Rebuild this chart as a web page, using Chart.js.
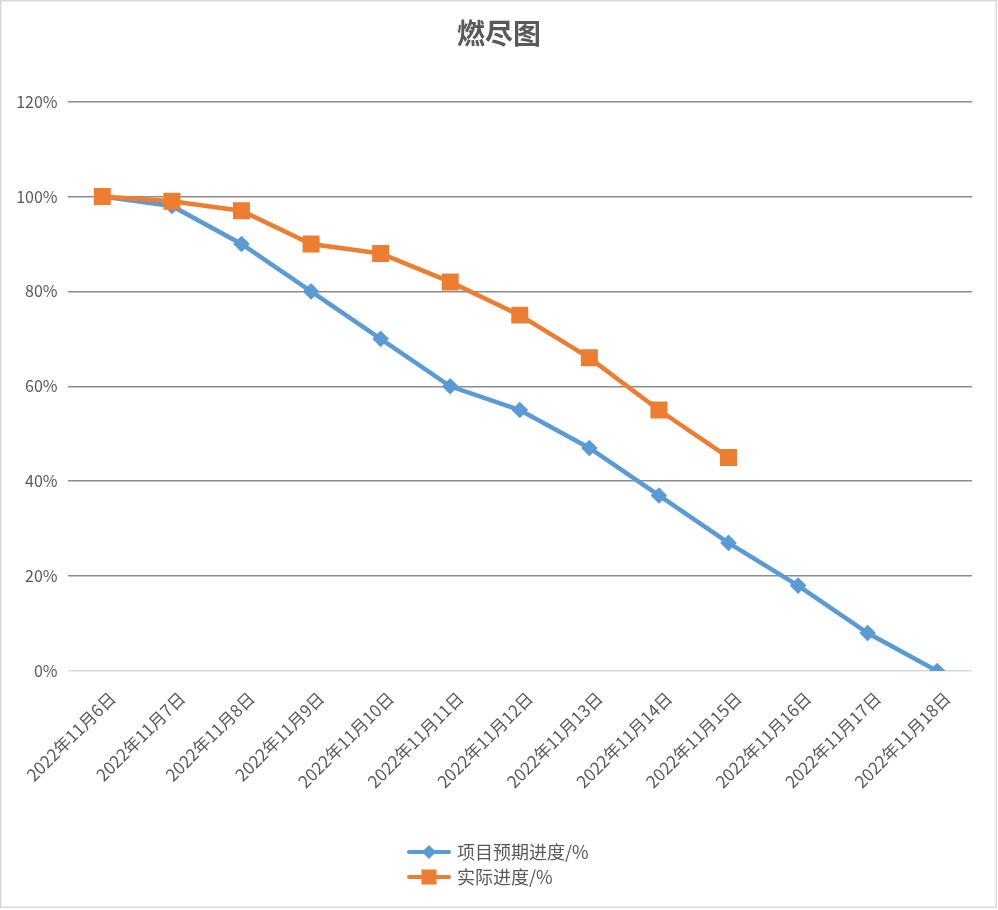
<!DOCTYPE html>
<html><head><meta charset="utf-8">
<script src="https://cdn.jsdelivr.net/npm/chart.js@4.4.0/dist/chart.umd.min.js"></script>
<style>html,body{margin:0;padding:0;background:#fff}#wrap{width:998px;height:910px;position:relative}canvas{display:block}</style>
</head><body><div id="wrap"><canvas id="c" width="998" height="910"></canvas></div>
<script>
const chartTitle = '燃尽图';
const categories = ['2022年11月6日','2022年11月7日','2022年11月8日','2022年11月9日','2022年11月10日','2022年11月11日','2022年11月12日','2022年11月13日','2022年11月14日','2022年11月15日','2022年11月16日','2022年11月17日','2022年11月18日'];
const plannedSeries = [100,98,90,80,70,60,55,47,37,27,18,8,0];
const actualSeries = [100,99,97,90,88,82,75,66,55,45];
const yTickLabels = ['0%','20%','40%','60%','80%','100%','120%'];
const seriesNames = ['项目预期进度/%','实际进度/%'];

const FONT = "'Noto Sans CJK SC', 'Noto Sans', sans-serif";
const TEXT = '#595959';
const BLUE = '#5b9bd5';
const ORANGE = '#ed7d31';

const framePlugin = {
  id: 'frame',
  beforeDraw(chart) {
    const ctx = chart.ctx;
    ctx.save();
    ctx.fillStyle = '#ffffff';
    ctx.fillRect(0, 0, chart.width, chart.height);
    ctx.strokeStyle = '#d9d9d9';
    ctx.lineWidth = 1.5;
    ctx.strokeRect(0.75, 0.75, 995.5, 906.5);
    ctx.restore();
  }
};

const legendPlugin = {
  id: 'stackedLegend',
  afterDraw(chart) {
    const ctx = chart.ctx;
    ctx.save();
    chart.data.datasets.forEach((ds, i) => {
      const y = 852 + i * 25;
      ctx.strokeStyle = ds.borderColor;
      ctx.lineWidth = 4;
      ctx.lineCap = 'round';
      ctx.beginPath();
      ctx.moveTo(409, y);
      ctx.lineTo(449, y);
      ctx.stroke();
      ctx.fillStyle = ds.backgroundColor;
      const cx = 429;
      if (ds.pointStyle === 'rectRot') {
        const r = 7;
        ctx.beginPath();
        ctx.moveTo(cx, y - r); ctx.lineTo(cx + r, y); ctx.lineTo(cx, y + r); ctx.lineTo(cx - r, y);
        ctx.closePath(); ctx.fill();
      } else {
        const s = 7.5;
        ctx.fillRect(cx - s, y - s, 2 * s, 2 * s);
      }
      ctx.fillStyle = TEXT;
      ctx.font = "18px " + FONT;
      ctx.textBaseline = 'middle';
      ctx.textAlign = 'left';
      ctx.fillText(ds.label, 457, y);
    });
    ctx.restore();
  }
};

new Chart(document.getElementById('c'), {
  type: 'line',
  data: {
    labels: categories,
    datasets: [
      {
        label: seriesNames[0], data: plannedSeries,
        borderColor: BLUE, backgroundColor: BLUE, borderWidth: 4.5,
        pointStyle: 'rectRot', pointRadius: 8.3, pointHoverRadius: 8.3, pointBorderWidth: 0,
        tension: 0, order: 2
      },
      {
        label: seriesNames[1], data: actualSeries,
        borderColor: ORANGE, backgroundColor: ORANGE, borderWidth: 4.5,
        pointStyle: 'rect', pointRadius: 12, pointHoverRadius: 12, pointBorderWidth: 0,
        tension: 0, order: 1
      }
    ]
  },
  options: {
    responsive: false,
    animation: false,
    events: [],
    layout: { padding: { left: 0, right: 0, top: 0, bottom: 0 } },
    plugins: {
      legend: { display: false },
      tooltip: { enabled: false },
      title: {
        display: true, text: chartTitle, color: TEXT,
        font: { family: FONT, size: 28, weight: 'bold' },
        padding: { top: 17, bottom: 51 }
      }
    },
    scales: {
      x: {
        type: 'category', offset: true,
        grid: { display: false, drawTicks: false },
        border: { display: false },
        ticks: {
          color: TEXT, font: { family: FONT, size: 17 },
          minRotation: 45, maxRotation: 45, autoSkip: false,
          padding: 17, labelOffset: 10
        },
        afterFit(scale) { scale.height = 910 - 671; }
      },
      y: {
        min: 0, max: 120,
        grid: {
          drawTicks: false,
          color: (c) => (c.tick && c.tick.value === 0) ? '#d9d9d9' : '#8c8c8c',
          lineWidth: 1.5
        },
        border: { display: false },
        ticks: {
          stepSize: 20, color: TEXT, font: { family: FONT, size: 16 }, padding: 10,
          callback: (v, i) => yTickLabels[i]
        },
        afterFit(scale) { scale.width = 67; }
      },
      yRightGap: {
        position: 'right', min: 0, max: 120,
        grid: { display: false, drawTicks: false },
        border: { display: false },
        ticks: { display: false },
        afterFit(scale) { scale.width = 26; }
      }
    }
  },
  plugins: [framePlugin, legendPlugin]
});
</script>
</body></html>
